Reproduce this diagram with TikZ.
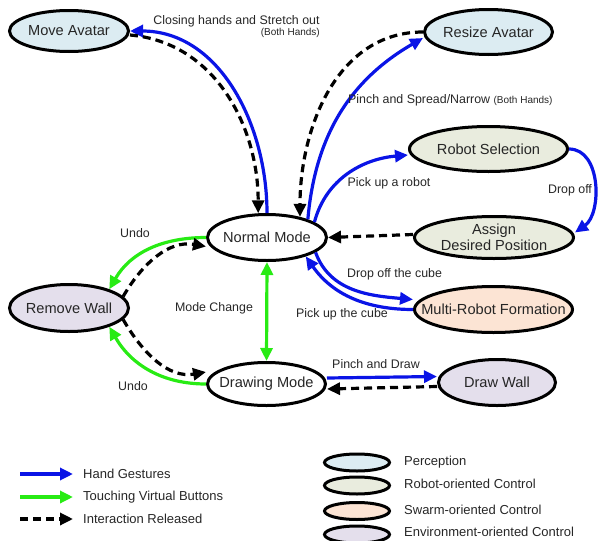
\documentclass[tikz,border=0pt]{standalone}
\usepackage{fontspec}
\setmainfont{Liberation Sans}
\usetikzlibrary{arrows.meta,shapes.geometric}
\definecolor{txt}{RGB}{38,38,38}
\definecolor{cblue}{RGB}{10,20,230}
\definecolor{cgreen}{RGB}{40,235,20}
\definecolor{cperc}{RGB}{220,236,242}
\definecolor{crobot}{RGB}{233,236,222}
\definecolor{cswarm}{RGB}{252,228,212}
\definecolor{cenv}{RGB}{228,223,236}
\begin{document}
\begin{tikzpicture}[x=1pt,y=1pt,
  >={Triangle[length=13pt,width=12pt]},
  st/.style={ellipse, draw=black, line width=3pt, inner xsep=-30pt, inner ysep=-10pt, text=txt,
    font=\fontsize{14.6}{17}\selectfont, align=center},
  perc/.style={st, fill=cperc},
  robo/.style={st, fill=crobot},
  swarm/.style={st, fill=cswarm},
  envi/.style={st, fill=cenv},
  plain/.style={st, fill=white},
  leg/.style={ellipse, draw=black, line width=3pt, inner sep=0pt, minimum width=65pt, minimum height=17pt},
  hand/.style={draw=cblue, line width=3.2pt, ->},
  touch/.style={draw=cgreen, line width=3.2pt, ->},
  rel/.style={draw=black, line width=3.2pt, dash pattern=on 8pt off 5pt, ->},
  lab/.style={text=txt, font=\fontsize{12.4}{15}\selectfont, inner sep=0pt},
  sml/.style={text=txt, font=\fontsize{10}{12}\selectfont, inner sep=0pt},
  legtxt/.style={text=txt, font=\fontsize{13}{15}\selectfont, inner sep=0pt, anchor=west},
]
\useasboundingbox (0,0) rectangle (600,-541);

% nodes
\node[perc, minimum width=119pt, minimum height=41pt] (ma) at (69,-31) {Move Avatar};
\node[perc, minimum width=128pt, minimum height=45pt] (ra) at (488.5,-32) {Resize Avatar};
\node[robo, minimum width=158pt, minimum height=45pt] (rs) at (488.5,-149) {Robot Selection};
\node[robo, minimum width=159pt, minimum height=42pt] (ad) at (494,-237.5) {Assign\\[-1pt]Desired Position};
\node[swarm, minimum width=158pt, minimum height=46pt] (mrf) at (493.5,-309.5) {Multi-Robot Formation};
\node[envi, minimum width=117pt, minimum height=46pt] (dw) at (497,-382.5) {Draw Wall};
\node[plain, minimum width=119pt, minimum height=46pt] (nm) at (267,-237.5) {Normal Mode};
\node[plain, minimum width=118pt, minimum height=43pt] (dm) at (266.5,-384) {Drawing Mode};
\node[envi, minimum width=119pt, minimum height=47pt] (rw) at (69,-308) {Remove Wall};

% edges
\draw[hand] (nm.north) to[out=90,in=0] (ma.east);
\draw[rel] ([yshift=-4pt]ma.east) to[out=-5,in=90] (nm.110);
\draw[rel] (ra.west) to[out=180,in=90] (nm.32);
\draw[hand] (nm.24) to[out=85,in=210] ([yshift=-6pt]ra.west);
\draw[hand] (nm.18) to[out=75,in=185] ([yshift=-6pt]rs.west);
\draw[hand] (rs.east) to[out=0,in=35] ([yshift=5pt]ad.east);
\draw[rel] ([yshift=3pt]ad.west) -- (nm.east);
\draw[hand] (nm.-17) to[out=-70,in=175] ([yshift=10pt]mrf.west);
\draw[hand] (mrf.west) to[out=180,in=-55] (nm.-26);
\draw[touch] (nm.west) to[out=180,in=60] (rw.25);
\draw[rel] (rw.12) to[out=60,in=170] ([yshift=-9pt]nm.west);
\draw[touch] (dm.west) to[out=180,in=-60] (rw.-25);
\draw[rel] (rw.-12) to[out=-60,in=190] ([yshift=12pt]dm.west);
\draw[touch, <->] (nm.south) -- (dm.north);
\draw[hand] ([yshift=6pt]dm.east) -- ([yshift=6pt]dw.west);
\draw[rel] ([yshift=-4pt]dw.west) -- ([yshift=-5pt]dm.east);

% edge labels
\node[lab] (l1) at (236.5,-21) {Closing hands and Stretch out};
\node[sml, anchor=east] (l1b) at (320,-33) {(Both Hands)};
\node[lab, anchor=west] (l2) at (348,-100) {Pinch and Spread/Narrow {\fontsize{10}{12}\selectfont(Both Hands)}};
\node[lab] (l3) at (389,-183) {Pick up a robot};
\node[lab] (l4) at (570,-190) {Drop off};
\node[lab] (l5) at (394.5,-274) {Drop off the cube};
\node[lab] (l6) at (342,-314) {Pick up the cube};
\node[lab] (l7) at (135,-233) {Undo};
\node[lab] (l8) at (133,-386) {Undo};
\node[lab] (l9) at (214,-308) {Mode Change};
\node[lab] (l10) at (376,-364) {Pinch and Draw};

% legend arrows
\coordinate (h1) at (20,-474); \coordinate (h2) at (73,-474);
\coordinate (t1) at (20,-497); \coordinate (t2) at (73,-497);
\coordinate (r1) at (20,-519); \coordinate (r2) at (73,-519);
\draw[hand] (h1) -- (h2);
\draw[touch] (t1) -- (t2);
\draw[rel] (r1) -- (r2);
\node[legtxt] (lt1) at (83,-474) {Hand Gestures};
\node[legtxt] (lt2) at (83,-497) {Touching Virtual Buttons};
\node[legtxt] (lt3) at (83,-519) {Interaction Released};

% legend ellipses
\node[leg, fill=cperc] (e1) at (357,-462.5) {};
\node[leg, fill=crobot] (e2) at (357,-485.5) {};
\node[leg, fill=cswarm] (e3) at (357,-511) {};
\node[leg, fill=cenv] (e4) at (357,-534.5) {};
\node[legtxt] (et1) at (404,-462) {Perception};
\node[legtxt] (et2) at (404,-484) {Robot-oriented Control};
\node[legtxt] (et3) at (404,-510) {Swarm-oriented Control};
\node[legtxt] (et4) at (404,-532) {Environment-oriented Control};
\end{tikzpicture}
\end{document}
